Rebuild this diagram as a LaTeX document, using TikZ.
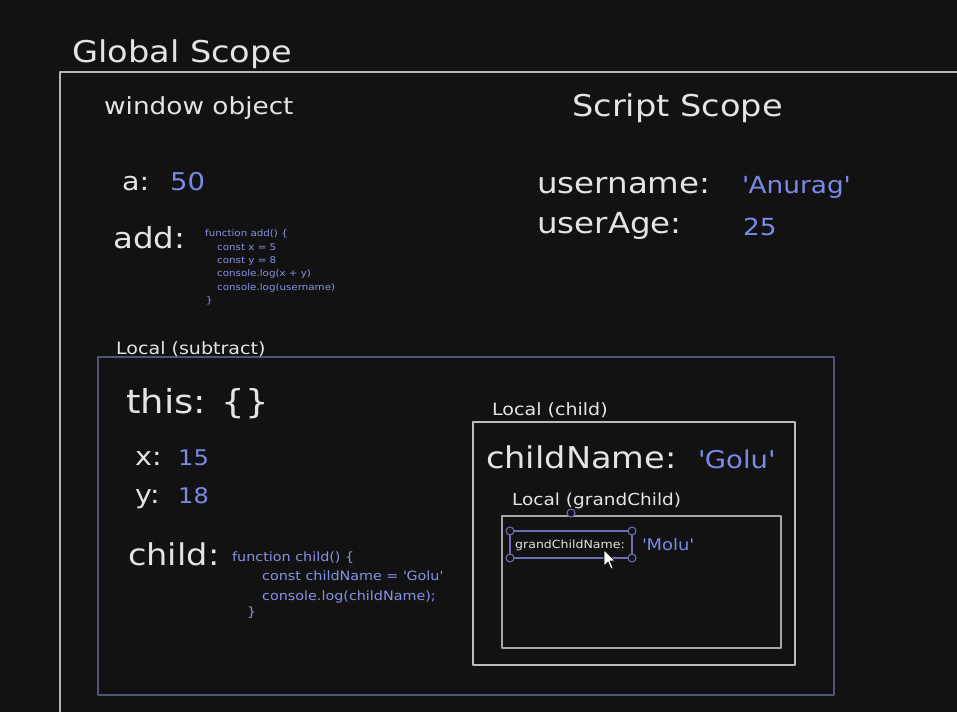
\documentclass[tikz,border=0pt]{standalone}
\usepackage{fontspec}
\setmainfont{DejaVu Sans}[FakeStretch=1.12]
\usetikzlibrary{positioning}

\definecolor{bg}{HTML}{121212}
\definecolor{ink}{HTML}{E4E4E4}
\definecolor{valblue}{HTML}{7B89E8}
\definecolor{codeblue}{HTML}{8593E6}
\definecolor{globalline}{HTML}{B4B4B4}
\definecolor{subline}{HTML}{4F5677}
\definecolor{childline}{HTML}{BDBDBD}
\definecolor{grandline}{HTML}{A6A6A6}
\definecolor{selline}{HTML}{6E6EB4}

\newcommand{\fsz}[1]{\fontsize{#1}{#1}\selectfont}
\newcommand{\sq}{\textquotesingle}

\tikzset{
  lbl/.style={anchor=base west,inner sep=0pt,text=ink},
  val/.style={anchor=base west,inner sep=0pt,text=valblue},
  codeline/.style={anchor=base west,inner sep=0pt,text=codeblue}
}

\begin{document}
\begin{tikzpicture}[x=1pt,y=-1pt,line join=round]
  \useasboundingbox (0,0) rectangle (957,712);
  \fill[bg] (0,0) rectangle (957,712);

  % global scope
  \draw[globalline,line width=1.4pt] (60,712) -- (60,72) -- (957,72);
  \node[lbl,font=\fsz{30}] (title) at (72,62) {Global Scope};
  \node[lbl,font=\fsz{23.5}] (winobj) at (104,114) {window object};
  \node[lbl,font=\fsz{30}] (scriptscope) at (572,116) {Script Scope};

  \node[lbl,font=\fsz{25.5}] (akey) at (122,190) {a:};
  \node[val,font=\fsz{24.5}] (aval) at (170,190) {50};
  \node[lbl,font=\fsz{29}] (addkey) at (113,248) {add:};
  \foreach \i/\x/\y/\t in {1/205/236/{function add() \{},
      2/217/250/{const x = 5},
      3/217/263/{const y = 8},
      4/217/276/{console.log(x + y)},
      5/217/290/{console.log(username)},
      6/206/303/{\}}}
    \node[codeline,font=\fsz{9.2}] (addcode\i) at (\x,\y) {\t};

  \node[lbl,font=\fsz{29}] (userkey) at (537,193) {username:};
  \node[val,font=\fsz{23.5}] (userval) at (742,193) {\sq Anurag\sq};
  \node[lbl,font=\fsz{29}] (agekey) at (537,233) {userAge:};
  \node[val,font=\fsz{23.5}] (ageval) at (743,235) {25};

  % local (subtract)
  \draw[subline,line width=1.4pt] (98,357) rectangle (834,695);
  \node[lbl,font=\fsz{17}] (subtitle) at (116,354) {Local (subtract)};
  \node[lbl,font=\fsz{33}] (thiskey) at (126,413) {this: \{\}};
  \node[lbl,font=\fsz{25.5}] (xkey) at (135,465) {x:};
  \node[val,font=\fsz{21.5}] (xval) at (178,465) {15};
  \node[lbl,font=\fsz{25.5}] (ykey) at (135,503) {y:};
  \node[val,font=\fsz{21.5}] (yval) at (178,503) {18};
  \node[lbl,font=\fsz{30}] (childkey) at (128,565) {child:};
  \foreach \i/\x/\y/\t in {1/232/561/{function child() \{},
      2/262/580/{const childName = \sq Golu\sq},
      3/262/600/{console.log(childName);},
      4/247/616/{\}}}
    \node[codeline,font=\fsz{12.8}] (childcode\i) at (\x,\y) {\t};

  % local (child)
  \draw[childline,line width=1.3pt] (473,422) rectangle (795,665);
  \node[lbl,font=\fsz{17}] (childtitle) at (492,415) {Local (child)};
  \node[lbl,font=\fsz{30}] (cnamekey) at (486,468) {childName:};
  \node[val,font=\fsz{24.5}] (cnameval) at (698,468) {\sq Golu\sq};

  % local (grandChild)
  \draw[grandline,line width=1.2pt] (502,516) rectangle (781,648);
  \node[lbl,font=\fsz{16.5}] (grandtitle) at (512,505) {Local (grandChild)};
  \node[lbl,font=\fsz{11.2}] (gnamekey) at (515,548) {grandChildName:};
  \node[val,font=\fsz{16}] (gnameval) at (642,550) {\sq Molu\sq};

  % selection frame
  \draw[selline,line width=1.2pt] (510,531) rectangle (632,558);
  \foreach \p in {(510,531),(632,531),(510,558),(632,558),(571,513)}
    \draw[selline,fill=bg,line width=1.1pt] \p circle (4);

  % cursor
  \draw[black,fill=white,line width=0.6pt] (604,550) -- (604,566) -- (608,562)
    -- (611,569) -- (613,568) -- (610,561) -- (615,561) -- cycle;
\end{tikzpicture}
\end{document}
